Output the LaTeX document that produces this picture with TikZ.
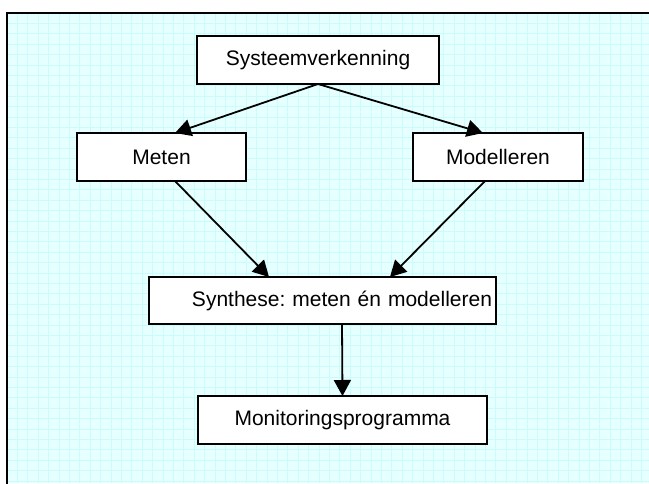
\documentclass[tikz,border=0pt]{standalone}
\usepackage{fontspec}
\setmainfont{Liberation Sans}
\usetikzlibrary{arrows.meta}
\definecolor{paper}{HTML}{E6FFFF}
\definecolor{gridline}{HTML}{CBFCFC}
\frenchspacing
\tikzset{
  box/.style={draw=black, line width=1.9pt, fill=white, minimum height=48pt,
    inner sep=0pt, outer sep=0pt, font=\fontsize{21}{25}\selectfont},
  link/.style={line width=1.8pt, -{Triangle[length=16pt,width=17pt]}}
}
\begin{document}
\begin{tikzpicture}[x=1pt,y=-1pt]
  \useasboundingbox (0,0) rectangle (649,483);
  \fill[white] (0,0) rectangle (649,483);
  % squared paper inside the frame
  \begin{scope}
    \clip (7,13) rectangle (649,483);
    \fill[paper] (7,13) rectangle (649,483);
    \foreach \i in {0,...,62} {
      \draw[gridline, line width=0.8pt] (7+10.4*\i,13) -- (7+10.4*\i,483);
    }
    \foreach \j in {0,...,46} {
      \draw[gridline, line width=0.8pt] (7,13+10.4*\j) -- (649,13+10.4*\j);
    }
  \end{scope}
  % frame (runs off the page on the right and at the bottom)
  \draw[line width=2pt] (7,700) -- (7,13) -- (800,13);

  \node[box, minimum width=242pt] (sys) at (318,60) {Systeemverkenning};
  \node[box, minimum width=169pt] (meten) at (161.5,157) {Meten};
  \node[box, minimum width=170pt] (model) at (498,157) {Modelleren};
  \node[box, minimum width=347pt, minimum height=47pt, inner xsep=4pt,
        text width=339pt, align=right] (syn) at (322.5,300.5)
        {Synthese: meten én modelleren};
  \node[box, minimum width=289pt] (mon) at (342.5,420) {Monitoringsprogramma};

  \draw[link] (sys.south) -- ([xshift=13.5pt]meten.north);
  \draw[link] (sys.south) -- ([xshift=-15pt]model.north);
  \draw[link] ([xshift=13.5pt]meten.south) -- ([xshift=-53.5pt]syn.north);
  \draw[link] ([xshift=-13pt]model.south) -- ([xshift=67.5pt]syn.north);
  \draw[link] ([xshift=19.5pt]syn.south) -- (mon.north);
\end{tikzpicture}
\end{document}
